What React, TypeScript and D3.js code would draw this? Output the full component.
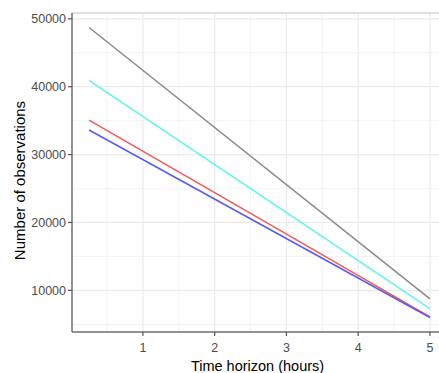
import * as d3 from 'd3'

const hours = [0.25, 5]
const seriesNames = ['gray', 'cyan', 'red', 'blue']
const grayValues = [48720, 8740]
const cyanValues = [40930, 7310]
const redValues = [35090, 6090]
const blueValues = [33620, 6000]
const seriesColors = ['#8a8a8a', '#5ff3f3', '#ef5a5a', '#5a5aef']
const xTicks = [1, 2, 3, 4, 5]
const yTicks = [10000, 20000, 30000, 40000, 50000]

const W = 439
const H = 373
const margin = { top: 13, right: -8, bottom: 41, left: 72 }

export default function App() {
  const innerW = W - margin.left - margin.right
  const innerH = H - margin.top - margin.bottom
  const allValues = [grayValues, cyanValues, redValues, blueValues]

  const xExt = d3.extent(hours) as [number, number]
  const xPad = (xExt[1] - xExt[0]) * 0.05
  const x = d3.scaleLinear().domain([xExt[0] - xPad, xExt[1] + xPad]).range([0, innerW])

  const yExt = d3.extent(allValues.flat()) as [number, number]
  const yPad = (yExt[1] - yExt[0]) * 0.05
  const y = d3.scaleLinear().domain([yExt[0] - yPad, yExt[1] + yPad]).range([innerH, 0])

  const line = d3.line<number>().x((_, i) => x(hours[i])).y(d => y(d))

  // minor gridlines sit halfway between major ticks
  const xMinor = [0.5, 1.5, 2.5, 3.5, 4.5]
  const yMinor = [5000, 15000, 25000, 35000, 45000]

  return (
    <svg width={W} height={H} style={{ position: 'absolute', left: 0, top: 0, fontFamily: 'Liberation Sans, Arial, sans-serif' }}>
      <rect width={W} height={H} fill="#fff" />
      <g transform={`translate(${margin.left},${margin.top})`}>
        {yMinor.map(v => (
          <line key={'ym' + v} x1={0} x2={innerW} y1={y(v)} y2={y(v)} stroke="#f0f0f0" strokeWidth={0.8} />
        ))}
        {xMinor.map(v => (
          <line key={'xm' + v} x1={x(v)} x2={x(v)} y1={0} y2={innerH} stroke="#f0f0f0" strokeWidth={0.8} />
        ))}
        {yTicks.map(v => (
          <line key={'yg' + v} x1={0} x2={innerW} y1={y(v)} y2={y(v)} stroke="#ebebeb" strokeWidth={1.2} />
        ))}
        {xTicks.map(v => (
          <line key={'xg' + v} x1={x(v)} x2={x(v)} y1={0} y2={innerH} stroke="#ebebeb" strokeWidth={1.2} />
        ))}

        {allValues.map((vals, i) => (
          <path key={seriesNames[i]} d={line(vals) || ''} fill="none" stroke={seriesColors[i]} strokeWidth={1.5} />
        ))}

        {/* panel border + axis lines */}
        <line x1={0} x2={innerW} y1={0} y2={0} stroke="#d6d6d6" strokeWidth={1.5} />
        <line x1={0} x2={0} y1={0} y2={innerH} stroke="#6e6e6e" strokeWidth={1.5} />
        <line x1={0} x2={innerW} y1={innerH} y2={innerH} stroke="#6e6e6e" strokeWidth={1.5} />

        {yTicks.map(v => (
          <g key={'yt' + v} transform={`translate(0,${y(v)})`}>
            <line x1={-4} x2={0} stroke="#555" strokeWidth={1.2} />
            <text x={-6} dy="0.35em" textAnchor="end" fontSize={12.5} fill="#4d4d4d">{v}</text>
          </g>
        ))}
        {xTicks.map(v => (
          <g key={'xt' + v} transform={`translate(${x(v)},${innerH})`}>
            <line y1={0} y2={4} stroke="#555" strokeWidth={1.2} />
            <text y={16} dy="0.35em" textAnchor="middle" fontSize={12.5} fill="#4d4d4d">{v}</text>
          </g>
        ))}

        <text x={innerW / 2 - 2} y={innerH + 39} textAnchor="middle" fontSize={14.5} fill="#000">Time horizon (hours)</text>
        <text transform={`translate(-47,${innerH / 2 + 8}) rotate(-90)`} textAnchor="middle" fontSize={15} fill="#000">Number of observations</text>
      </g>
    </svg>
  )
}
